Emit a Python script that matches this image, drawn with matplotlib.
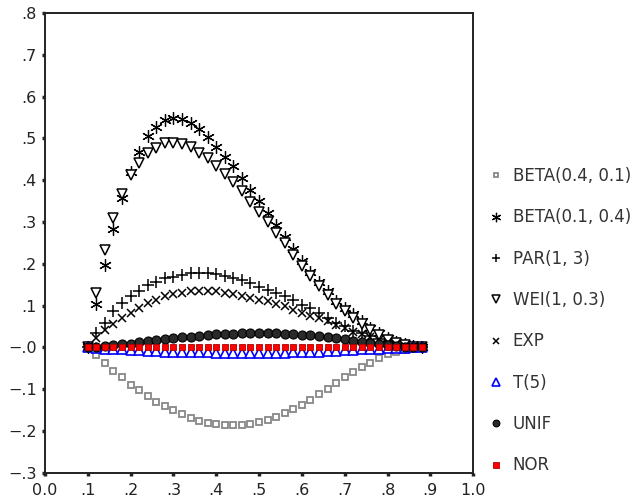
import numpy as np
import matplotlib.pyplot as plt

plt.rcParams['font.family'] = ['DejaVu Sans']

# evaluation points 0.10 .. 0.88
p = np.round(np.arange(0.10, 0.881, 0.02), 2)

beta_04_01 = [0.000, -0.018, -0.038, -0.056, -0.072, -0.090, -0.103, -0.116, -0.130, -0.140,
              -0.150, -0.160, -0.169, -0.176, -0.181, -0.184, -0.186, -0.186, -0.186, -0.184,
              -0.179, -0.173, -0.167, -0.158, -0.148, -0.139, -0.126, -0.112, -0.099, -0.086,
              -0.072, -0.060, -0.046, -0.037, -0.025, -0.017, -0.011, -0.006, -0.003, 0.000]
beta_01_04 = [0.000, 0.104, 0.197, 0.283, 0.357, 0.419, 0.468, 0.506, 0.528, 0.543,
              0.548, 0.546, 0.536, 0.522, 0.504, 0.480, 0.456, 0.433, 0.405, 0.377,
              0.350, 0.321, 0.293, 0.263, 0.235, 0.207, 0.181, 0.157, 0.135, 0.112,
              0.095, 0.079, 0.063, 0.047, 0.035, 0.023, 0.014, 0.008, 0.003, 0.000]
par_1_3 = [0.000, 0.034, 0.058, 0.086, 0.106, 0.122, 0.134, 0.150, 0.157, 0.166,
           0.169, 0.173, 0.177, 0.177, 0.177, 0.175, 0.171, 0.167, 0.161, 0.155,
           0.145, 0.138, 0.130, 0.122, 0.114, 0.102, 0.094, 0.082, 0.070, 0.059,
           0.051, 0.040, 0.035, 0.028, 0.020, 0.014, 0.008, 0.004, 0.002, 0.000]
wei_1_03 = [0.000, 0.130, 0.233, 0.309, 0.367, 0.413, 0.442, 0.465, 0.478, 0.489,
            0.489, 0.486, 0.480, 0.466, 0.453, 0.435, 0.415, 0.397, 0.375, 0.349,
            0.325, 0.299, 0.273, 0.250, 0.222, 0.195, 0.170, 0.147, 0.125, 0.103,
            0.087, 0.071, 0.056, 0.041, 0.029, 0.018, 0.011, 0.006, 0.002, 0.000]
exp_ = [0.000, 0.022, 0.042, 0.055, 0.070, 0.082, 0.094, 0.106, 0.114, 0.122,
        0.127, 0.131, 0.134, 0.134, 0.134, 0.134, 0.131, 0.127, 0.122, 0.118,
        0.114, 0.110, 0.104, 0.100, 0.090, 0.082, 0.076, 0.070, 0.062, 0.054,
        0.046, 0.038, 0.031, 0.024, 0.018, 0.012, 0.007, 0.004, 0.001, 0.000]
t5 = [0.000, -0.002, -0.003, -0.004, -0.005, -0.006, -0.007, -0.008, -0.009, -0.010,
      -0.010, -0.011, -0.011, -0.012, -0.012, -0.013, -0.013, -0.013, -0.013, -0.013,
      -0.013, -0.013, -0.013, -0.013, -0.012, -0.012, -0.011, -0.010, -0.009, -0.008,
      -0.007, -0.006, -0.005, -0.004, -0.003, -0.002, -0.002, -0.001, 0.000, 0.000]
unif = [0.001, 0.002, 0.003, 0.005, 0.007, 0.009, 0.012, 0.015, 0.017, 0.020,
        0.022, 0.024, 0.026, 0.028, 0.030, 0.031, 0.032, 0.033, 0.034, 0.034,
        0.035, 0.034, 0.034, 0.033, 0.032, 0.030, 0.029, 0.027, 0.025, 0.022,
        0.019, 0.016, 0.013, 0.010, 0.008, 0.005, 0.003, 0.002, 0.001, 0.000]
nor = [0.000] * 40

fig = plt.figure(figsize=(6.42, 5.04), dpi=100)
ax = fig.add_axes([0.070, 0.062, 0.667, 0.912])

ax.plot(p[1:], beta_04_01[1:], 's', ls='none', mfc='white', mec='#888888', mew=1.3, ms=4.8,
        label='BETA(0.4, 0.1)')
ax.plot(p, beta_01_04, marker=(6, 2, 0), ls='none', color='black', mew=0.9, ms=9,
        label='BETA(0.1, 0.4)')
ax.plot(p, par_1_3, '+', ls='none', color='black', mew=1.1, ms=8, label='PAR(1, 3)')
ax.plot(p, wei_1_03, 'v', ls='none', mfc='white', mec='black', mew=1.1, ms=7.5,
        label='WEI(1, 0.3)')
ax.plot(p, exp_, 'x', ls='none', color='black', mew=1.1, ms=6, label='EXP')
ax.plot(p, t5, '^', ls='none', mfc='white', mec='blue', mew=1.2, ms=7, label='T(5)')
ax.plot(p, unif, 'o', ls='none', mfc='#2a2a2a', mec='black', mew=0.8, ms=6.5, label='UNIF')
ax.plot(p, nor, 's', ls='none', mfc='red', mec='#b00000', mew=0.6, ms=5, label='NOR')

ax.set_xlim(0, 1)
ax.set_ylim(-0.3, 0.8)

xt = np.round(np.arange(0, 1.01, 0.1), 1)
ax.set_xticks(xt)
ax.set_xticklabels(['0.0', '.1', '.2', '.3', '.4', '.5', '.6', '.7', '.8', '.9', '1.0'])
yt = np.round(np.arange(-0.3, 0.81, 0.1), 1)
ax.set_yticks(yt)
ax.set_yticklabels(['\u2212.3', '\u2212.2', '\u2212.1', '\u2212.0', '.1', '.2', '.3',
                    '.4', '.5', '.6', '.7', '.8'])
ax.tick_params(direction='out', length=2.5, width=2.5, labelsize=11.5, colors='#222222')
ax.tick_params(axis='x', pad=5)
for s in ax.spines.values():
    s.set_linewidth(1.4)
    s.set_color('#222222')

leg = ax.legend(loc='upper left', bbox_to_anchor=(1.042, 0.665), frameon=False,
                fontsize=12, labelspacing=1.4, handlelength=0.6, handletextpad=0.7,
                markerscale=0.75, borderaxespad=0, borderpad=0)
for t in leg.get_texts():
    t.set_color('#333333')

fig.savefig('out.png', dpi=100)
